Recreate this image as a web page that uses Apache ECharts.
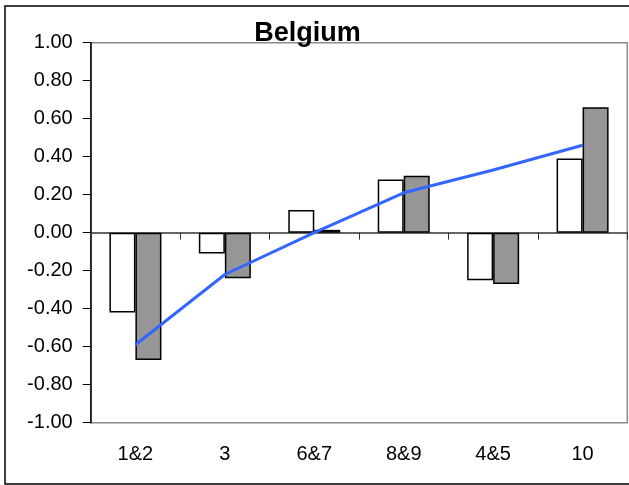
<!DOCTYPE html>
<html>
<head>
<meta charset="utf-8">
<script src="https://cdn.jsdelivr.net/npm/echarts@6/dist/echarts.min.js"></script>
<style>
  html, body { margin: 0; padding: 0; background: #fff; }
  #chart { width: 629px; height: 485px; }
</style>
</head>
<body>
<div id="chart"></div>
<script>
// Occupation groups along the horizontal axis
const categories = ['1&2', '3', '6&7', '8&9', '4&5', '10'];
// First (white) bar series
const whiteValues = [-0.42, -0.11, 0.12, 0.28, -0.25, 0.39];
// Second (grey) bar series
const greyValues = [-0.67, -0.24, 0.015, 0.30, -0.27, 0.66];
// Blue trend line
const lineValues = [-0.59, -0.22, 0.0, 0.21, 0.33, 0.46];
// Value axis range and step
const yMin = -1.0;
const yMax = 1.0;
const yStep = 0.2;

const FONT = '"Liberation Sans", Arial, sans-serif';

const chart = echarts.init(document.getElementById('chart'), null, { renderer: 'canvas' });

chart.setOption({
  animation: false,
  backgroundColor: '#ffffff',
  title: {
    text: 'Belgium',
    left: 302.5,
    top: 15,
    textAlign: 'center',
    textStyle: { fontFamily: FONT, fontSize: 27, fontWeight: 'bold', color: '#000' }
  },
  graphic: [{
    type: 'rect',
    shape: { x: 5, y: 6, width: 640, height: 478 },
    style: { fill: 'none', stroke: '#000', lineWidth: 1.5 },
    silent: true,
    z: 100
  }],
  grid: {
    left: 90.7, top: 42.7, right: 1.7, bottom: 62.3,
    show: true,
    borderColor: '#8c8c8c',
    borderWidth: 1.5,
    backgroundColor: '#fff'
  },
  xAxis: [{
    type: 'category',
    data: categories,
    position: 'bottom',
    axisLine: { onZero: true, lineStyle: { color: '#333', width: 1.5 } },
    axisTick: { show: true, inside: false, length: 7, lineStyle: { color: '#333', width: 1 } },
    axisLabel: { show: false },
    splitLine: { show: false }
  }, {
    type: 'category',
    data: categories,
    position: 'bottom',
    axisLine: { show: false, onZero: false },
    axisTick: { show: false },
    axisLabel: { show: true, margin: 22, fontFamily: FONT, fontSize: 20, color: '#000' },
    splitLine: { show: false }
  }],
  yAxis: {
    type: 'value',
    min: yMin,
    max: yMax,
    interval: yStep,
    axisLine: { show: true, lineStyle: { color: '#000', width: 1.5 } },
    axisTick: { show: true, inside: false, length: 8, lineStyle: { color: '#000', width: 1 } },
    axisLabel: {
      margin: 18,
      fontFamily: FONT,
      fontSize: 20,
      color: '#000',
      formatter: v => v.toFixed(2)
    },
    splitLine: { show: false }
  },
  series: [{
    type: 'bar',
    data: whiteValues,
    barWidth: 26,
    barGap: '0%',
    itemStyle: { color: '#ffffff', borderColor: '#000', borderWidth: 1.5 },
    z: 2
  }, {
    type: 'bar',
    data: greyValues,
    barWidth: 26,
    barGap: '0%',
    itemStyle: { color: '#969696', borderColor: '#000', borderWidth: 1.5 },
    z: 2
  }, {
    type: 'line',
    data: lineValues,
    showSymbol: false,
    symbol: 'none',
    lineStyle: { color: '#3366ff', width: 3 },
    z: 5
  }]
});
</script>
</body>
</html>
